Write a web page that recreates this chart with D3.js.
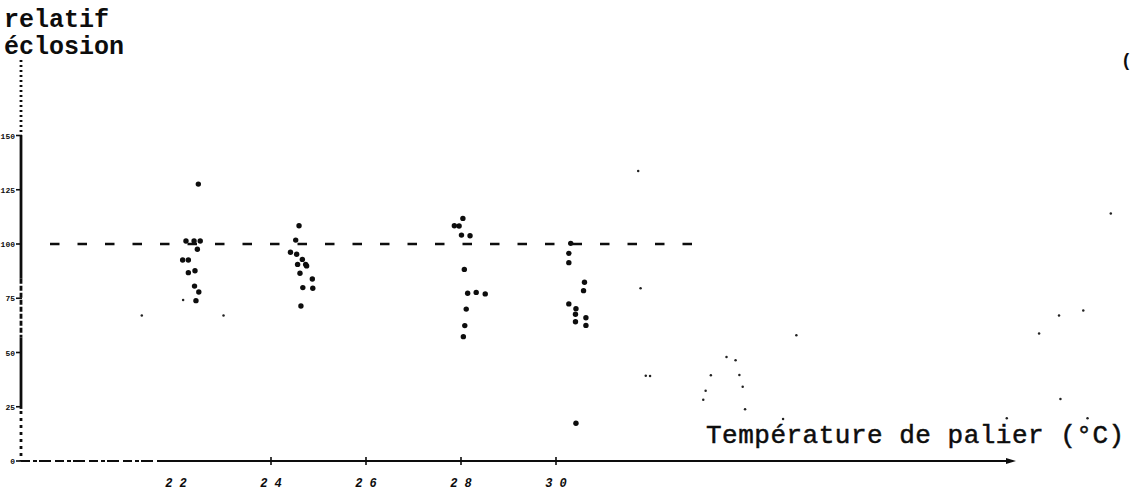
<!DOCTYPE html>
<html>
<head>
<meta charset="utf-8">
<script src="https://cdn.jsdelivr.net/npm/d3@7"></script>
<style>
  html, body { margin: 0; padding: 0; background: #fff; }
  svg { display: block; }
</style>
</head>
<body>
<svg id="chart" width="1134" height="494"></svg>
<script>
// Hatching relative to the control (%), by plateau temperature (°C)
const series22Temp = [22.47, 22.21, 22.38, 22.51, 22.45, 22.14, 22.26, 22.26, 22.40, 22.39, 22.48, 22.42];
const series22Val  = [127.6, 101.4, 101.4, 101.4, 97.6, 92.6, 92.6, 86.8, 87.7, 80.6, 77.9, 73.9];

const series24Temp = [24.59, 24.52, 24.41, 24.54, 24.66, 24.56, 24.73, 24.75, 24.61, 24.87, 24.67, 24.88, 24.63];
const series24Val  = [108.4, 101.8, 96.2, 95.3, 92.9, 90.6, 90.6, 89.9, 86.5, 83.9, 79.9, 79.6, 71.4];

const series28Temp = [28.04, 27.86, 27.96, 28.01, 28.19, 28.07, 28.14, 28.32, 28.51, 28.11, 28.08, 28.05];
const series28Val  = [111.8, 108.4, 108.3, 104.1, 103.8, 88.3, 77.3, 77.7, 77.0, 70.0, 62.4, 57.3];

const series30Temp = [30.31, 30.27, 30.27, 30.60, 30.58, 30.27, 30.42, 30.41, 30.63, 30.41, 30.63, 30.42];
const series30Val  = [100.3, 95.7, 91.4, 82.4, 78.5, 72.4, 70.2, 67.6, 66.0, 64.2, 62.5, 17.4];

// lightly printed points
const faintTemp = [22.15, 21.28, 23.00, 31.73, 31.78, 31.89, 31.98, 35.06, 33.59, 33.78, 33.26, 33.86,
                   33.93, 33.15, 33.10, 33.98, 34.78, 41.68, 41.10, 40.59, 40.17, 40.62, 39.49, 41.19];
const faintVal  = [74.2, 67.0, 67.0, 133.6, 79.6, 39.3, 39.2, 57.9, 47.9, 46.4, 39.5, 39.6,
                   34.2, 32.4, 28.2, 23.8, 19.4, 114.1, 69.3, 67.1, 58.8, 28.6, 19.7, 19.7];

const xTickValues = [22, 24, 26, 28, 30];
const xTickLabels = ["2 2", "2 4", "2 6", "2 8", "3 0"];
const yTickValues = [0, 25, 50, 75, 100, 125, 150];
const yTickLabels = ["0", "25", "50", "75", "100", "125", "150"];
const controlLevel = 100;

const yTitle = ["relatif", "éclosion"];
const xTitle = "Température de palier (°C)";

const svg = d3.select("#chart");
const ink = "#0d0d0d";

const x = d3.scaleLinear().domain([22, 30]).range([176, 556]);
const y = d3.scaleLinear().domain([0, 100]).range([461, 244]);

const originX = 21, originY = y(0);
const xAxisEnd = 1016, yAxisTop = 60;

// --- y axis: broken typewritten rule
const yAxis = svg.append("g");
const ySegs = [
  [yAxisTop, y(150), "2 3"],
  [y(150), y(84), null],
  [y(84), y(57), "5 2"],
  [y(57), y(24), null],
  [y(23), originY, "3 4"]
];
ySegs.forEach(([a, b, dash]) => {
  yAxis.append("line")
    .attr("x1", originX).attr("x2", originX)
    .attr("y1", a).attr("y2", b)
    .attr("stroke", ink).attr("stroke-width", 2.8)
    .attr("stroke-dasharray", dash);
});
yAxis.selectAll("line.tick").data(yTickValues).join("line")
  .attr("class", "tick")
  .attr("x1", originX - 5).attr("x2", originX + 1)
  .attr("y1", d => y(d)).attr("y2", d => y(d))
  .attr("stroke", ink).attr("stroke-width", 1.6);
yAxis.selectAll("text").data(yTickValues).join("text")
  .attr("x", 15).attr("y", d => y(d) + 3)
  .attr("text-anchor", "end")
  .attr("font-family", "Liberation Mono, monospace")
  .attr("font-weight", "bold")
  .attr("font-size", 8)
  .attr("fill", ink)
  .text((d, i) => yTickLabels[i]);

// --- x axis with arrow
const xAxis = svg.append("g");
xAxis.append("line")
  .attr("x1", originX).attr("x2", x(21.6))
  .attr("y1", originY).attr("y2", originY)
  .attr("stroke", ink).attr("stroke-width", 2.2)
  .attr("stroke-dasharray", "9 3 4 2 12 4");
xAxis.append("line")
  .attr("x1", x(21.6)).attr("x2", xAxisEnd - 6)
  .attr("y1", originY).attr("y2", originY)
  .attr("stroke", ink).attr("stroke-width", 2.2);
xAxis.append("path")
  .attr("d", `M${xAxisEnd - 10},${originY - 3} L${xAxisEnd},${originY} L${xAxisEnd - 10},${originY + 3} Z`)
  .attr("fill", ink);
xAxis.selectAll("line.tick").data(xTickValues.slice(1)).join("line")
  .attr("class", "tick")
  .attr("x1", d => x(d)).attr("x2", d => x(d))
  .attr("y1", originY - 4).attr("y2", originY + 4)
  .attr("stroke", ink).attr("stroke-width", 1.6);
xAxis.selectAll("text").data(xTickValues).join("text")
  .attr("x", d => x(d)).attr("y", originY + 26)
  .attr("text-anchor", "middle")
  .attr("font-family", "Liberation Mono, monospace")
  .attr("font-weight", "bold")
  .attr("font-style", "italic")
  .attr("font-size", 12)
  .attr("fill", ink)
  .text((d, i) => xTickLabels[i]);

// --- control reference (100 %)
svg.append("line")
  .attr("x1", 50).attr("x2", 695)
  .attr("y1", y(controlLevel)).attr("y2", y(controlLevel))
  .attr("stroke", ink).attr("stroke-width", 2.6)
  .attr("stroke-dasharray", "9.5 18");

// --- points
const groups = [
  [series22Temp, series22Val],
  [series24Temp, series24Val],
  [series28Temp, series28Val],
  [series30Temp, series30Val]
];
const dots = svg.append("g");
groups.forEach(([ts, vs]) => {
  dots.append("g").selectAll("circle")
    .data(ts.map((t, i) => ({ t, v: vs[i] })))
    .join("circle")
    .attr("cx", d => x(d.t)).attr("cy", d => y(d.v))
    .attr("r", 2.7)
    .attr("fill", ink);
});
dots.append("g").selectAll("circle")
  .data(faintTemp.map((t, i) => ({ t, v: faintVal[i] })))
  .join("circle")
  .attr("cx", d => x(d.t)).attr("cy", d => y(d.v))
  .attr("r", 1.25)
  .attr("fill", "#222");

// --- titles
svg.append("g").selectAll("text").data(yTitle).join("text")
  .attr("x", 4).attr("y", (d, i) => 27 + i * 27)
  .attr("font-family", "Liberation Mono, monospace")
  .attr("font-weight", "bold")
  .attr("font-size", 25)
  .attr("fill", ink)
  .text(d => d);

svg.append("text")
  .attr("x", 706).attr("y", 443)
  .attr("font-family", "Liberation Mono, monospace")
  .attr("font-size", 26)
  .attr("letter-spacing", 0.5)
  .attr("fill", ink)
  .attr("stroke", ink).attr("stroke-width", 0.5)
  .text(xTitle);

svg.append("text")
  .attr("x", 1121).attr("y", 66)
  .attr("font-family", "Liberation Mono, monospace")
  .attr("font-weight", "bold")
  .attr("font-size", 18)
  .attr("fill", ink)
  .text("(");
</script>
</body>
</html>
